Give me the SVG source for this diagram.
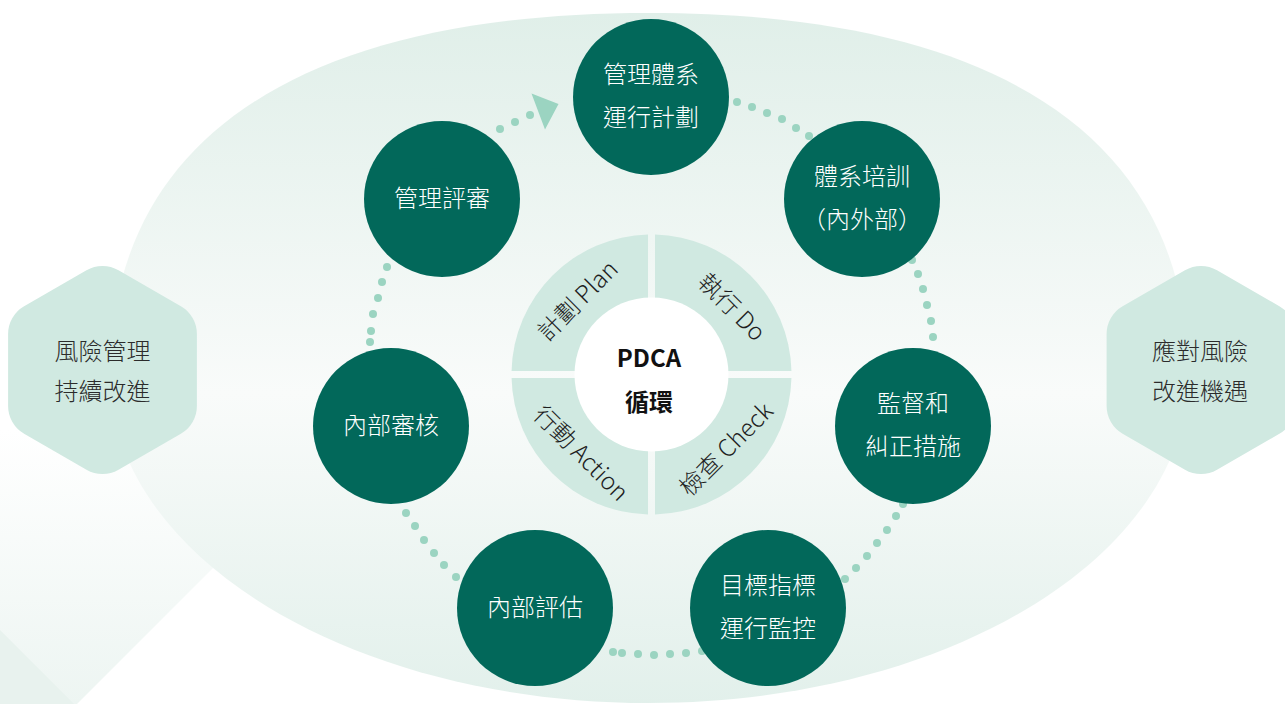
<svg xmlns="http://www.w3.org/2000/svg" width="1285" height="704" viewBox="0 0 1285 704">
<defs>
<linearGradient id="bgGrad" x1="0" y1="13" x2="0" y2="705" gradientUnits="userSpaceOnUse">
<stop offset="0" stop-color="#e0efe9"/>
<stop offset="0.55" stop-color="#f9fbfa"/>
<stop offset="1" stop-color="#e2f0eb"/>
</linearGradient>
<linearGradient id="diaGrad" x1="0" y1="430" x2="0" y2="705" gradientUnits="userSpaceOnUse">
<stop offset="0" stop-color="#ffffff"/>
<stop offset="1" stop-color="#edf5f2"/>
</linearGradient>
<path id="hexShape" d="M16.02,-99.75 L78.38,-63.75 A32 32 0 0 1 94.4,-36 L94.4,36 A32 32 0 0 1 78.38,63.75 L16.02,99.75 A32 32 0 0 1 -16.02,99.75 L-78.38,63.75 A32 32 0 0 1 -94.4,36 L-94.4,-36 A32 32 0 0 1 -78.38,-63.75 L-16.02,-99.75 A32 32 0 0 1 16.02,-99.75 Z"/>
</defs>
<style>
text { font-family: "Noto Sans CJK TC", "Noto Sans CJK SC", "Noto Sans", sans-serif; text-anchor: middle; }
.node circle { fill: #02685a; }
.node text { fill: #ffffff; font-size: 24px; font-weight: 300; }
.dot { fill: #9bd4c1; }
.hex { fill: #d0e9e1; }
.hexlabel { fill: #2b2b2b; font-size: 24px; font-weight: 300; }
.quad { fill: #d0e9e1; }
.qlabel { fill: #1e1e1e; font-size: 24px; font-weight: 300; }
.ctext { fill: #111111; font-size: 24px; font-weight: 700; }
</style>

<g id="background">
<polygon points="75,706 545,236 75,-234 -395,236" fill="url(#diaGrad)"/>
<polygon points="0,630 75,705 0,705" fill="#e8f2ee"/>
<path d="M649,13 C999.4,13 1188,139.7 1188,375 C1188,556.2 946.7,703 649,703 C351.3,703 110,556.2 110,375 C110,139.7 298.6,13 649,13 Z" fill="url(#bgGrad)"/>
</g>

<g id="hex-left">
<use href="#hexShape" x="102.5" y="370" class="hex"/>
<text class="hexlabel" x="102.5" y="360">風險管理</text>
<text class="hexlabel" x="102.5" y="400">持續改進</text>
</g>
<g id="hex-right">
<use href="#hexShape" x="1201" y="370" class="hex"/>
<text class="hexlabel" x="1200" y="360">應對風險</text>
<text class="hexlabel" x="1200" y="400">改進機遇</text>
</g>

<g id="connectors">
<g id="c-review-plan">
<circle class="dot" cx="500" cy="129" r="4"/>
<circle class="dot" cx="515" cy="122" r="4"/>
<circle class="dot" cx="530" cy="115" r="4"/>
<polygon class="dot" points="531.5,93.5 558.5,104 545,129.5"/>
</g>
<g id="c-plan-training">
<circle class="dot" cx="737" cy="102" r="4"/>
<circle class="dot" cx="752" cy="107" r="4"/>
<circle class="dot" cx="767" cy="113" r="4"/>
<circle class="dot" cx="782" cy="119" r="4"/>
<circle class="dot" cx="796" cy="128" r="4"/>
<circle class="dot" cx="809" cy="136" r="4"/>
</g>
<g id="c-training-monitor">
<circle class="dot" cx="912" cy="260" r="4"/>
<circle class="dot" cx="918" cy="274" r="4"/>
<circle class="dot" cx="923" cy="289" r="4"/>
<circle class="dot" cx="927" cy="305" r="4"/>
<circle class="dot" cx="931" cy="321" r="4"/>
<circle class="dot" cx="933" cy="337" r="4"/>
</g>
<g id="c-monitor-target">
<circle class="dot" cx="903" cy="504" r="4"/>
<circle class="dot" cx="896" cy="516" r="4"/>
<circle class="dot" cx="887" cy="530" r="4"/>
<circle class="dot" cx="877" cy="543" r="4"/>
<circle class="dot" cx="867" cy="556" r="4"/>
<circle class="dot" cx="856" cy="568" r="4"/>
<circle class="dot" cx="845" cy="579" r="4"/>
</g>
<g id="c-target-assess">
<circle class="dot" cx="702" cy="651" r="4"/>
<circle class="dot" cx="686" cy="653" r="4"/>
<circle class="dot" cx="670" cy="654" r="4"/>
<circle class="dot" cx="654" cy="655" r="4"/>
<circle class="dot" cx="638" cy="654" r="4"/>
<circle class="dot" cx="622" cy="653" r="4"/>
<circle class="dot" cx="613" cy="652" r="4"/>
</g>
<g id="c-assess-audit">
<circle class="dot" cx="456" cy="577" r="4"/>
<circle class="dot" cx="444" cy="565" r="4"/>
<circle class="dot" cx="434" cy="553" r="4"/>
<circle class="dot" cx="424" cy="540" r="4"/>
<circle class="dot" cx="415" cy="526" r="4"/>
<circle class="dot" cx="406" cy="513" r="4"/>
</g>
<g id="c-audit-review">
<circle class="dot" cx="387" cy="267" r="4"/>
<circle class="dot" cx="382" cy="282" r="4"/>
<circle class="dot" cx="378" cy="298" r="4"/>
<circle class="dot" cx="373" cy="314" r="4"/>
<circle class="dot" cx="371" cy="331" r="4"/>
<circle class="dot" cx="370" cy="342" r="4"/>
</g>
</g>

<g id="node-plan" class="node">
<circle cx="651" cy="97" r="78"/>
<text x="651" y="83">管理體系</text>
<text x="651" y="126">運行計劃</text>
</g>
<g id="node-training" class="node">
<circle cx="862" cy="199" r="78"/>
<text x="862" y="185">體系培訓</text>
<text x="862" y="228">（內外部）</text>
</g>
<g id="node-review" class="node">
<circle cx="442" cy="199" r="78"/>
<text x="442" y="207">管理評審</text>
</g>
<g id="node-audit" class="node">
<circle cx="391" cy="426" r="78"/>
<text x="391" y="434">內部審核</text>
</g>
<g id="node-monitor" class="node">
<circle cx="913" cy="426" r="78"/>
<text x="913" y="412">監督和</text>
<text x="913" y="455">糾正措施</text>
</g>
<g id="node-assess" class="node">
<circle cx="535" cy="608" r="78"/>
<text x="535" y="616">內部評估</text>
</g>
<g id="node-target" class="node">
<circle cx="768" cy="608" r="78"/>
<text x="768" y="594">目標指標</text>
<text x="768" y="637">運行監控</text>
</g>

<g id="pdca">
<path class="quad" d="M648,371 L648,234.54 A140 140 0 0 0 511.54,371 Z"/>
<path class="quad" d="M655,371 L791.46,371 A140 140 0 0 0 655,234.54 Z"/>
<path class="quad" d="M655,378 L655,514.46 A140 140 0 0 0 791.46,378 Z"/>
<path class="quad" d="M648,378 L511.54,378 A140 140 0 0 0 648,514.46 Z"/>
<circle cx="651.5" cy="374.5" r="77" fill="#ffffff"/>
<text class="qlabel" transform="translate(651.5,374.5) rotate(-45)" x="0" y="-96">計劃 Plan</text>
<text class="qlabel" transform="translate(651.5,374.5) rotate(45)" x="9" y="-96">執行 Do</text>
<text class="qlabel" transform="translate(651.5,374.5) rotate(45)" x="6" y="114">行動 Action</text>
<text class="qlabel" transform="translate(651.5,374.5) rotate(-45)" x="0" y="114">檢查 Check</text>
<text class="ctext" x="649" y="367">PDCA</text>
<text class="ctext" x="649" y="411">循環</text>
</g>
</svg>
